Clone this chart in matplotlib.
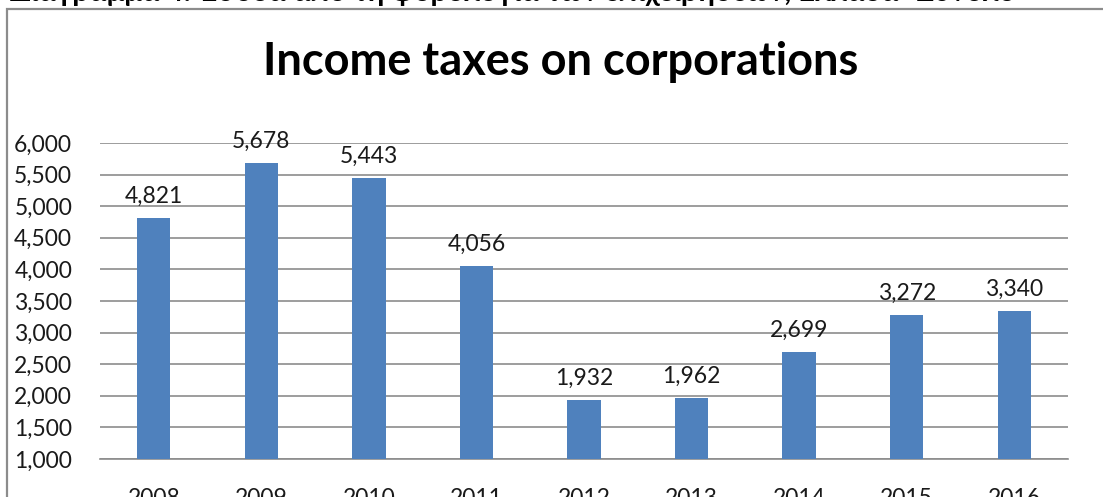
import numpy as np
import matplotlib.pyplot as plt
from matplotlib.patches import Rectangle

years = ['2008', '2009', '2010', '2011', '2012', '2013', '2014', '2015', '2016']
taxes = [4821, 5678, 5443, 4056, 1932, 1962, 2699, 3272, 3340]
yticks = [1000, 1500, 2000, 2500, 3000, 3500, 4000, 4500, 5000, 5500, 6000]

plt.rcParams['font.family'] = ['Lato', 'DejaVu Sans']

fig = plt.figure(figsize=(11.03, 4.97), dpi=100)
W, H = 1103, 497

# chart frame (right and bottom run off the page)
fig.patches.append(Rectangle((7 / W, -0.1), 1.2, (H - 9) / H + 0.1,
                             transform=fig.transFigure, fill=False,
                             edgecolor='#8c8c8c', linewidth=1.6))

# caption from the page above the chart, clipped by the top edge
caption = fig.text(10 / W, 1 - 1.5 / H,
                   'Διάγραμμα 4: Έσοδα από τη φορολογία των επιχειρήσεων, '
                   'Ελλάδα- Σύνολο',
                   fontsize=20, fontweight='bold', va='baseline', ha='left')
renderer = fig.canvas.get_renderer()
cap_w = caption.get_window_extent(renderer).width
caption.set_fontsize(20 * 1003 / cap_w)

ax = fig.add_axes([100 / W, 1 - 459 / H, 968 / W, 316 / H])
x = np.arange(len(years))
ax.bar(x, taxes, width=0.31, color='#4f81bd', zorder=3)
for xi, v in zip(x, taxes):
    ax.annotate(f'{v:,}', (xi, v), xytext=(0, 8), textcoords='offset points',
                ha='center', va='bottom', fontsize=16.5, color='#1a1a1a')

ax.set_xlim(-0.5, len(years) - 0.5)
ax.set_ylim(1000, 6000)
ax.set_yticks(yticks)
ax.set_yticklabels([f'{t:,}' for t in yticks], fontsize=16.5, color='#1a1a1a')
ax.set_xticks(x)
ax.set_xticklabels(years, fontsize=16.5, color='#1a1a1a')
ax.tick_params(axis='both', length=0)
ax.tick_params(axis='y', pad=20)
ax.tick_params(axis='x', pad=21)
ax.grid(axis='y', color='#8c8c8c', linewidth=1.2, zorder=0)
for side in ['top', 'right', 'left']:
    ax.spines[side].set_visible(False)
ax.spines['bottom'].set_color('#8c8c8c')
ax.spines['bottom'].set_linewidth(1.2)

fig.text(561 / W, 1 - 62 / H, 'Income taxes on corporations',
         fontsize=32.5, fontweight='bold', ha='center', va='center')

fig.savefig('out.png', dpi=100)
